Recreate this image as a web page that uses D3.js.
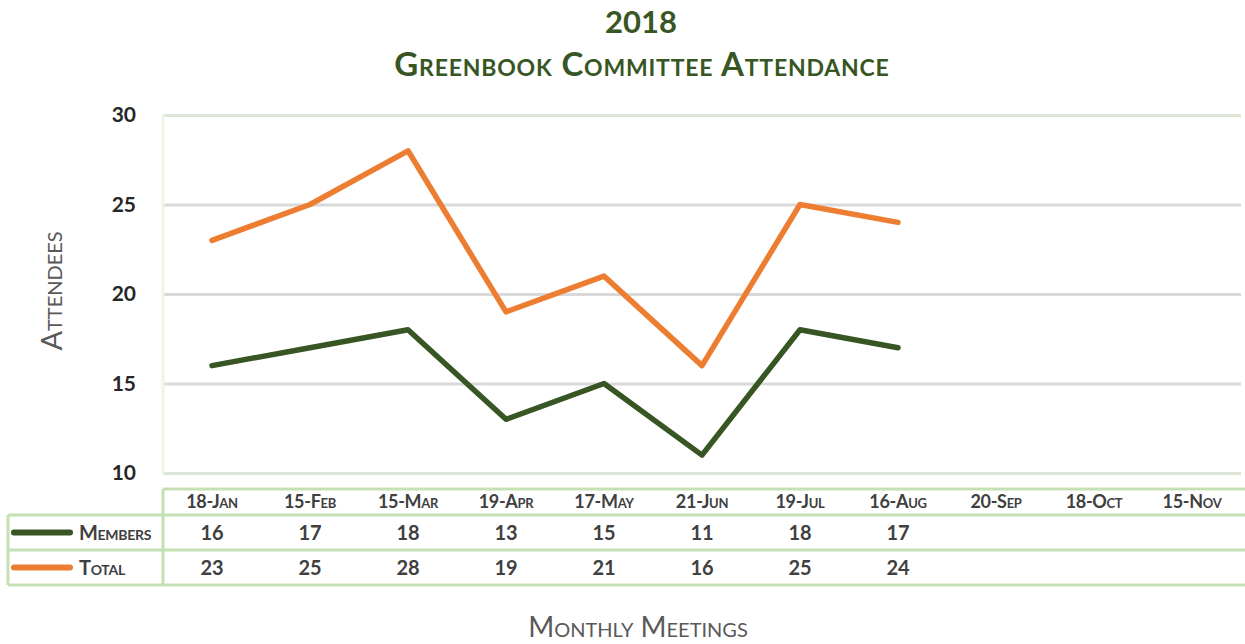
<!DOCTYPE html>
<html>
<head>
<meta charset="utf-8">
<script src="https://cdn.jsdelivr.net/npm/d3@7"></script>
<style>
  body { margin: 0; background: #fff; }
  svg { font-family: Lato, "Open Sans", sans-serif; }
</style>
</head>
<body>
<div id="chart"></div>
<script>
// data
const months = ['18-Jan', '15-Feb', '15-Mar', '19-Apr', '17-May', '21-Jun', '19-Jul', '16-Aug', '20-Sep', '18-Oct', '15-Nov'];
const members = [16, 17, 18, 13, 15, 11, 18, 17];
const total = [23, 25, 28, 19, 21, 16, 25, 24];
const yTicks = [10, 15, 20, 25, 30];

const width = 1245;
const height = 644;
const plot = { left: 163, right: 1241, top: 115, bottom: 473 };

const GREEN = '#375623';
const ORANGE = '#ed7d31';
const TABLE = '#c5e0b4';

const series = [
  { name: 'Members', values: members, color: GREEN },
  { name: 'Total', values: total, color: ORANGE }
];

const svg = d3.select('#chart').append('svg').attr('width', width).attr('height', height);

const x = d3.scaleBand().domain(months).range([plot.left, plot.right]);
const y = d3.scaleLinear().domain([10, 30]).range([plot.bottom, plot.top]);
const cx = d => x(d) + x.bandwidth() / 2;

// titles
svg.append('text').attr('x', 641).attr('y', 33).attr('text-anchor', 'middle')
  .attr('font-size', 31).attr('font-weight', 'bold').attr('fill', GREEN).text('2018');
svg.append('text').attr('x', 642).attr('y', 76).attr('text-anchor', 'middle')
  .attr('font-size', 33).attr('font-weight', 'bold').attr('fill', GREEN)
  .style('font-variant', 'small-caps').attr('letter-spacing', 0.8).text('Greenbook Committee Attendance');

// gridlines
svg.append('g').attr('transform', `translate(${plot.left},0)`)
  .call(d3.axisLeft(y).tickValues(yTicks).tickSize(-(plot.right - plot.left)).tickFormat(''))
  .call(g => g.select('.domain').remove())
  .call(g => g.selectAll('.tick line')
    .attr('stroke', d => (d === 10 || d === 30) ? '#dde5d6' : '#d9d9d9').attr('stroke-width', 3));

svg.append('line').attr('x1', plot.left).attr('x2', plot.left)
  .attr('y1', plot.top).attr('y2', plot.bottom).attr('stroke', '#edf5e6').attr('stroke-width', 3);

// y tick labels
svg.append('g').attr('transform', `translate(${plot.left - 24},0)`)
  .call(d3.axisLeft(y).tickValues(yTicks).tickSize(0))
  .call(g => g.select('.domain').remove())
  .call(g => g.selectAll('.tick text').attr('font-size', 21).attr('font-weight', 'bold')
    .attr('fill', '#262626').attr('font-family', 'Lato, sans-serif'));

// y axis title
svg.append('text').attr('transform', 'translate(62,291) rotate(-90)').attr('text-anchor', 'middle')
  .attr('font-size', 29).attr('fill', '#595959').style('font-variant', 'small-caps').text('Attendees');

// lines
const line = d3.line().x((d, i) => cx(months[i])).y(d => y(d));
svg.selectAll('.series').data(series).join('path').attr('class', 'series')
  .attr('d', d => line(d.values)).attr('fill', 'none').attr('stroke', d => d.color)
  .attr('stroke-width', 5.5).attr('stroke-linejoin', 'round').attr('stroke-linecap', 'round');

// data table
const rowsY = [489, 515, 550, 585];
const tbl = svg.append('g').attr('stroke', TABLE).attr('stroke-width', 3);
tbl.append('line').attr('x1', plot.left).attr('x2', width).attr('y1', rowsY[0]).attr('y2', rowsY[0]);
[1, 2, 3].forEach(i => tbl.append('line').attr('x1', 8).attr('x2', width).attr('y1', rowsY[i]).attr('y2', rowsY[i]));
tbl.append('line').attr('x1', 8).attr('x2', 8).attr('y1', rowsY[1]).attr('y2', rowsY[3]);
tbl.append('line').attr('x1', plot.left).attr('x2', plot.left).attr('y1', rowsY[0]).attr('y2', rowsY[3]);

svg.selectAll('.hdr').data(months).join('text').attr('class', 'hdr')
  .attr('x', d => cx(d)).attr('y', 508).attr('text-anchor', 'middle')
  .attr('font-size', 18).attr('font-weight', 'bold').attr('fill', '#404040')
  .style('font-variant', 'small-caps').attr('letter-spacing', -0.3).text(d => d);

series.forEach((s, r) => {
  const ty = (rowsY[r + 1] + rowsY[r + 2]) / 2;
  svg.append('line').attr('x1', 14).attr('x2', 70).attr('y1', ty).attr('y2', ty)
    .attr('stroke', s.color).attr('stroke-width', 6).attr('stroke-linecap', 'round');
  svg.append('text').attr('x', 79).attr('y', ty + 7).attr('font-size', 20).attr('font-weight', 'bold')
    .attr('fill', '#404040').style('font-variant', 'small-caps').attr('letter-spacing', -0.3).text(s.name);
  svg.selectAll('.v' + r).data(s.values).join('text').attr('class', 'v' + r)
    .attr('x', (d, i) => cx(months[i])).attr('y', ty + 7).attr('text-anchor', 'middle')
    .attr('font-size', 20).attr('font-weight', 'bold').attr('fill', '#404040').text(d => d);
});

// x axis title
svg.append('text').attr('x', 638).attr('y', 637).attr('text-anchor', 'middle')
  .attr('font-size', 28).attr('fill', '#595959').style('font-variant', 'small-caps').text('Monthly Meetings');
</script>
</body>
</html>
